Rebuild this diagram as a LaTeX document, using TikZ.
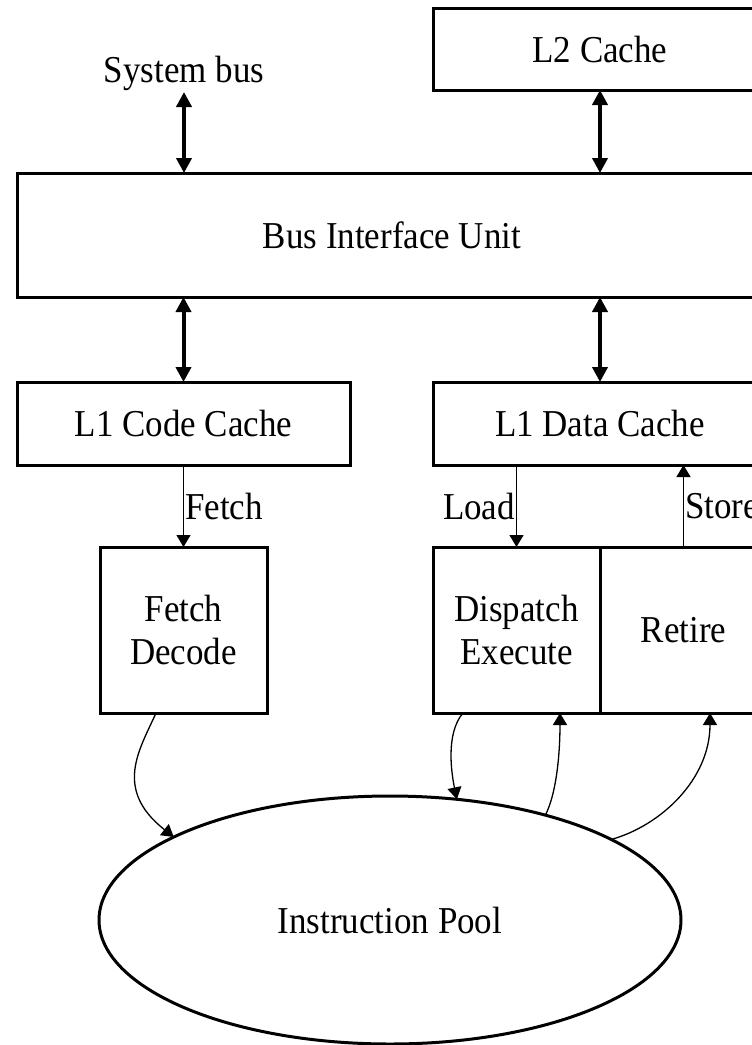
\documentclass[tikz,border=0pt]{standalone}
\usepackage{fontspec}
\setmainfont{Liberation Serif}[FakeStretch=0.92]
\usetikzlibrary{arrows.meta,shapes.geometric,calc}
\begin{document}
\begin{tikzpicture}[x=1pt,y=-1pt,
  txt/.style={font=\fontsize{38pt}{43pt}\selectfont},
  box/.style={draw, line width=3pt, inner sep=0pt, outer sep=0pt, txt, align=center},
  lbl/.style={txt, inner sep=1.5pt},
  bigarrow/.style={line width=4pt, {Triangle[length=15pt,width=15pt]}-{Triangle[length=15pt,width=15pt]}},
  thinarrow/.style={line width=1.3pt, -{Triangle[length=12pt,width=14pt]}},
]
\useasboundingbox (0,0) rectangle (752,1045);

\node[box, minimum width=334pt, minimum height=82pt] (l2) at (600,49) {L2 Cache};
\node[lbl, anchor=south] (sys) at (184,92) {System bus};
\node[box, minimum width=750pt, minimum height=124pt] (biu) at (392,235) {Bus Interface Unit};
\node[box, minimum width=333pt, minimum height=83pt] (l1c) at (183.5,423.5) {L1 Code Cache};
\node[box, minimum width=334pt, minimum height=83pt] (l1d) at (600,423.5) {L1 Data Cache};
\node[box, minimum width=167pt, minimum height=166pt] (fd) at (183.5,630) {Fetch\\Decode};
\node[box, minimum width=167pt, minimum height=166pt] (de) at (516.5,630) {Dispatch\\Execute};
\node[box, minimum width=167pt, minimum height=166pt] (ret) at (683.5,630) {Retire};
\node[draw, ellipse, line width=3pt, minimum width=582pt, minimum height=248pt, inner sep=0pt, outer sep=0pt, txt] (pool) at (390,920) {Instruction Pool};

\draw[bigarrow] (sys.south) -- (sys.south |- biu.north);
\draw[bigarrow] (l2.south) -- (l2.south |- biu.north);
\draw[bigarrow] (biu.south -| l1c.north) -- (l1c.north);
\draw[bigarrow] (biu.south -| l1d.north) -- (l1d.north);

\draw[thinarrow] (l1c.south) -- node[lbl, right, inner sep=1pt] {Fetch} (fd.north);
\draw[thinarrow] (l1d.south -| de.north) -- node[lbl, left, inner sep=1pt] {Load} (de.north);
\draw[thinarrow] (ret.north) -- node[lbl, right, inner sep=1pt] {Store} (ret.north |- l1d.south);

\draw[thinarrow] ($(fd.south)+(-27.5,0)$) .. controls +(-16,36) and +(-61,-48) .. (pool.159.5);
\draw[thinarrow] ($(de.south)+(-53.5,0)$) .. controls +(-18,21) and +(-5,-24) .. (pool.61.8);
\draw[thinarrow] (pool.34.7) .. controls +(12,-24) and +(0,36) .. ($(de.south)+(43.5,0)$);
\draw[thinarrow] (pool.20.5) .. controls +(50,-14) and +(0,66) .. ($(ret.south)+(26.5,0)$);
\end{tikzpicture}
\end{document}
